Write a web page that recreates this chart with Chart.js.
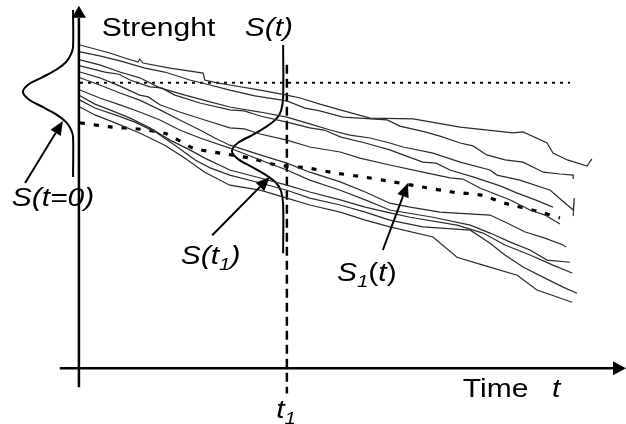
<!DOCTYPE html>
<html>
<head>
<meta charset="utf-8">
<script src="https://cdn.jsdelivr.net/npm/chart.js@4/dist/chart.umd.min.js"></script>
<style>
  html, body { margin: 0; padding: 0; background: #fff; }
  canvas { display: block; }
</style>
</head>
<body>
<canvas id="chart" width="626" height="424"></canvas>
<script>
// strength sample paths, [time, strength]
const pathA = [[0.2,89.7],[3.0,88.6],[5.8,87.5],[8.6,86.1],[11.1,85.0],[11.4,85.8],[12.0,84.7],[17.1,83.3],[23.3,81.9],[23.6,80.0],[25.9,79.2],[28.3,78.6],[34.0,77.2],[39.0,75.8],[41.5,75.0],[45.2,73.3],[49.0,71.7],[54.6,69.4],[62.7,69.2],[71.5,66.9],[81.4,65.3],[83.3,65.6],[87.8,62.5],[88.9,59.7],[91.6,57.8],[95.3,56.1],[96.2,58.1]];
const pathB = [[0.2,87.8],[3.9,86.7],[7.7,85.3],[12.4,83.3],[16.1,82.2],[20.8,80.0],[24.6,78.6],[28.3,77.2],[33.0,75.6],[39.0,74.2],[42.4,72.2],[45.2,71.4],[49.5,69.7],[57.8,68.9],[60.2,67.2],[64.9,65.6],[67.7,64.4],[71.5,62.5],[73.9,61.7],[76.5,59.2],[79.9,57.8],[83.3,57.2],[87.1,54.4],[90.2,53.9],[92.7,53.6],[92.7,52.5]];
const pathC = [[0.2,85.6],[3.9,84.2],[7.7,82.2],[11.4,80.6],[15.2,77.8],[19.9,75.8],[24.6,73.9],[28.3,72.5],[34.0,71.1],[39.0,69.7],[43.3,67.8],[47.1,66.1],[50.8,64.7],[54.6,63.9],[58.3,62.5],[60.8,61.4],[66.4,59.7],[71.5,57.2],[77.1,55.0],[78.4,53.6],[82.7,52.2],[88.4,49.4],[91.2,45.8],[92.7,43.9],[92.9,47.2],[92.7,42.2]];
const pathD = [[0.2,83.9],[4.9,82.2],[7.5,81.6],[9.6,80.0],[13.3,78.1],[15.5,77.8],[18.0,75.8],[22.7,73.6],[28.3,71.7],[31.0,71.4],[34.0,70.0],[39.0,68.3],[43.3,66.7],[46.0,66.1],[49.0,64.2],[53.7,62.5],[58.3,60.6],[60.8,59.2],[64.5,57.2],[67.0,56.9],[69.6,55.0],[73.9,53.1],[79.0,50.6],[82.2,48.6],[85.6,46.7],[88.9,44.7]];
const pathE = [[0.2,82.2],[3.9,80.6],[7.7,78.3],[11.4,75.8],[13.0,75.3],[15.2,73.1],[18.9,71.1],[23.6,68.9],[28.3,66.7],[31.0,66.4],[34.0,65.0],[39.0,63.3],[43.3,61.4],[49.0,60.0],[52.7,58.3],[58.3,56.4],[64.5,54.4],[69.6,52.8],[72.0,52.5],[75.2,50.0],[80.9,46.7],[84.6,43.9],[87.4,42.5],[90.2,40.0]];
const pathF = [[0.2,80.6],[3.9,78.6],[7.7,76.4],[11.4,74.4],[15.2,71.7],[18.9,68.9],[22.7,66.1],[25.5,63.9],[28.3,61.9],[34.0,59.2],[39.0,56.9],[43.3,54.4],[49.0,51.7],[53.7,48.9],[58.3,45.8],[62.1,44.7],[67.7,43.3],[77.1,42.5],[80.3,40.3],[83.7,37.8],[87.4,36.1],[90.8,34.2],[91.4,33.6]];
const pathG = [[0.2,77.2],[3.9,75.0],[7.7,73.1],[11.4,71.1],[15.2,68.9],[18.9,66.1],[22.7,63.9],[28.3,61.1],[34.0,57.8],[39.0,55.0],[43.3,52.2],[49.0,49.4],[53.7,46.7],[58.3,43.9],[66.4,41.9],[73.4,39.7],[77.1,37.5],[80.9,35.0],[84.6,32.8],[87.8,30.0],[92.1,29.4]];
const pathH = [[0.2,75.6],[3.0,73.3],[5.8,71.7],[9.6,69.4],[13.3,66.7],[17.1,63.3],[20.8,60.6],[23.6,58.3],[28.3,55.0],[34.0,52.8],[39.0,50.8],[43.3,48.9],[49.0,46.7],[53.7,44.7],[58.3,43.1],[62.1,41.9],[70.9,39.7],[75.8,37.5],[79.9,34.2],[84.6,31.4],[88.9,28.6],[92.5,26.4]];
const pathI = [[0.2,74.4],[3.0,72.2],[6.8,70.3],[10.5,68.3],[14.3,65.6],[18.0,61.9],[21.8,57.8],[24.6,55.6],[28.3,53.6],[34.0,51.4],[39.0,49.4],[43.3,47.2],[49.0,45.3],[53.7,43.3],[58.3,41.1],[64.5,39.2],[73.4,38.3],[77.1,34.7],[79.9,31.4],[83.3,28.1],[87.4,25.0],[90.8,22.5],[93.4,20.8]];
const pathJ = [[0.2,72.5],[3.0,70.3],[6.8,68.1],[11.4,65.3],[16.1,61.9],[19.9,58.3],[23.6,54.4],[28.3,50.8],[34.0,49.4],[39.0,47.2],[43.3,45.3],[49.0,43.3],[53.7,41.1],[58.3,39.2],[66.4,36.4],[70.9,30.8],[75.8,28.6],[82.2,25.8],[85.9,21.7],[92.5,18.3]];

// S1(t) curve
const meanPath = [[0.2,68.1],[6.2,66.9],[11.1,66.4],[16.5,65.0],[21.4,61.1],[26.5,59.7],[32.1,58.3],[37.1,56.4],[42.8,55.6],[48.0,54.2],[53.3,53.1],[58.9,51.7],[64.4,50.3],[70.0,48.9],[75.2,48.1],[80.3,45.6],[85.9,43.6],[90.2,41.7]];

// strength distributions at t=0 and t=t1
const densityT0 = [[-1.1,99.4],[-1.1,89.2],[-1.5,87.1],[-2.4,85.0],[-4.2,82.9],[-6.8,80.8],[-9.4,78.8],[-10.5,76.7],[-9.4,74.6],[-6.8,72.5],[-4.2,70.4],[-2.4,68.3],[-1.5,66.3],[-1.1,64.2],[-1.1,53.1]];
const densityT1 = [[38.3,89.7],[38.3,75.3],[37.9,71.4],[37.0,69.2],[35.1,67.0],[32.5,64.7],[29.8,62.5],[28.7,60.3],[29.8,58.1],[32.5,55.8],[35.1,53.6],[37.0,51.4],[37.9,49.2],[38.3,45.3],[38.3,31.9]];

// design level and the t1 marker
const designLevel = [[0.2,79.2],[92.1,79.2]];
const t1Marker = [[39.0,84.2],[39.0,-7.0]];

const FONT = '"Liberation Sans", Arial, sans-serif';

function toPts(arr) {
  return arr.map(function (p) { return { x: p[0], y: p[1] }; });
}

const paths = [pathA, pathB, pathC, pathD, pathE, pathF, pathG, pathH, pathI, pathJ];
const datasets = paths.map(function (p) {
  return { data: toPts(p), borderColor: '#2b2b2b', borderWidth: 1.2, tension: 0 };
});
datasets.push({ data: toPts(meanPath), borderColor: '#000', borderWidth: 3.2, borderDash: [5, 9], tension: 0.2 });
datasets.push({ data: toPts(densityT0), borderColor: '#000', borderWidth: 2, tension: 0.3 });
datasets.push({ data: toPts(densityT1), borderColor: '#000', borderWidth: 2, tension: 0.3 });
datasets.push({ data: toPts(designLevel), borderColor: '#000', borderWidth: 2, borderDash: [3, 5] });
datasets.push({ data: toPts(t1Marker), borderColor: '#000', borderWidth: 2.5, borderDash: [9, 5] });

// text runs drawn stretched a bit wider, like the original drawing
function drawRuns(ctx, runs, x, y) {
  ctx.save();
  ctx.translate(x, y);
  ctx.scale(1.2, 1);
  let cx = 0;
  runs.forEach(function (r) {
    ctx.font = (r.it ? 'italic ' : '') + (r.sub ? '17px ' : '25px ') + FONT;
    ctx.fillText(r.s, cx, r.sub ? 6 : 0);
    cx += ctx.measureText(r.s).width;
  });
  ctx.restore();
}

function arrow(ctx, x0, y0, x1, y1, len, half) {
  const a = Math.atan2(y1 - y0, x1 - x0);
  const bx = x1 - len * Math.cos(a), by = y1 - len * Math.sin(a);
  ctx.beginPath();
  ctx.moveTo(x0, y0);
  ctx.lineTo(bx, by);
  ctx.stroke();
  ctx.beginPath();
  ctx.moveTo(x1, y1);
  ctx.lineTo(bx + half * Math.sin(a), by - half * Math.cos(a));
  ctx.lineTo(bx - half * Math.sin(a), by + half * Math.cos(a));
  ctx.closePath();
  ctx.fill();
}

const sketchPlugin = {
  id: 'sketch',
  beforeDraw: function (chart) {
    const ctx = chart.ctx;
    ctx.save();
    ctx.fillStyle = '#fff';
    ctx.fillRect(0, 0, chart.width, chart.height);
    ctx.restore();
  },
  afterDatasetsDraw: function (chart) {
    const ctx = chart.ctx;
    const xs = chart.scales.x, ys = chart.scales.y;
    const px = function (v) { return xs.getPixelForValue(v); };
    const py = function (v) { return ys.getPixelForValue(v); };
    ctx.save();
    ctx.strokeStyle = '#000';
    ctx.fillStyle = '#000';
    ctx.lineWidth = 2.5;
    ctx.lineCap = 'butt';

    // axes with arrow heads
    arrow(ctx, px(0), py(-5.3), px(0), py(100.6), 12, 7);
    arrow(ctx, px(-3.6), py(0), px(102.6), py(0), 13, 7);

    // pointers to the labelled curves
    ctx.lineWidth = 2;
    arrow(ctx, px(-10.1), py(51.4), px(-3.0), py(68.6), 14, 6);
    arrow(ctx, px(25.0), py(36.9), px(35.8), py(53.1), 14, 6);
    arrow(ctx, px(57.0), py(32.8), px(61.7), py(51.4), 14, 6);

    ctx.textBaseline = 'alphabetic';
    // axis title, descenders cut as in the drawing
    ctx.save();
    ctx.beginPath();
    ctx.rect(0, 0, chart.width, py(88.1));
    ctx.clip();
    drawRuns(ctx, [{ s: 'Strenght' }], px(4.3), py(92.2));
    drawRuns(ctx, [{ s: 'S(t)', it: true }], px(31.1), py(92.2));
    ctx.restore();

    drawRuns(ctx, [{ s: 'S(t=0)', it: true }], px(-12.6), py(45.0));
    drawRuns(ctx, [{ s: 'S(t', it: true }, { s: '1', it: true, sub: true }, { s: ')', it: true }], px(19.1), py(28.9));
    drawRuns(ctx, [{ s: 'S', it: true }, { s: '1', it: true, sub: true }, { s: '(' }, { s: 't', it: true }, { s: ')' }], px(48.4), py(24.2));
    drawRuns(ctx, [{ s: 'Time' }], px(72.0), py(-8.1));
    drawRuns(ctx, [{ s: 't', it: true }], px(88.7), py(-8.1));
    drawRuns(ctx, [{ s: 't', it: true }, { s: '1', it: true, sub: true }], px(37.0), py(-13.9));
    ctx.restore();
  }
};

new Chart(document.getElementById('chart').getContext('2d'), {
  type: 'scatter',
  data: { datasets: datasets },
  options: {
    responsive: false,
    animation: false,
    events: [],
    layout: { padding: 0 },
    datasets: { scatter: { showLine: true, pointRadius: 0, fill: false } },
    plugins: { legend: { display: false }, tooltip: { enabled: false } },
    scales: {
      x: { type: 'linear', min: -14.8, max: 102.6, display: false },
      y: { type: 'linear', min: -15.5, max: 102.2, display: false }
    }
  },
  plugins: [sketchPlugin]
});
</script>
</body>
</html>
